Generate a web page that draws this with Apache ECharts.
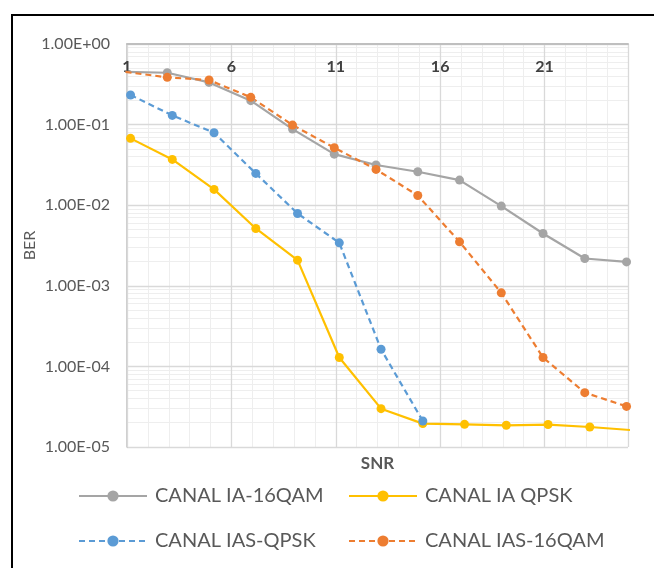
<!DOCTYPE html>
<html>
<head>
<meta charset="utf-8">
<script src="https://cdn.jsdelivr.net/npm/echarts@6/dist/echarts.min.js"></script>
<style>
  html, body { margin: 0; padding: 0; background: #fff; }
  #chart { width: 654px; height: 568px; }
</style>
</head>
<body>
<div id="chart"></div>
<script>
// SNR positions of each measurement set
const snr16qam = [0.93, 2.93, 4.93, 6.93, 8.93, 10.93, 12.93, 14.93, 16.93, 18.93, 20.93, 22.93, 24.93];
const snrQpsk = [1.17, 3.17, 5.17, 7.17, 9.17, 11.17, 13.17, 15.17, 17.17, 19.17, 21.17, 23.17, 25.17];

// Bit error rate per channel / modulation
const berIA16qam = [0.45, 0.44, 0.334, 0.198, 0.088, 0.043, 0.0315, 0.026, 0.0205, 0.00975, 0.00446, 0.00218, 0.00198];
const berIAqpsk = [0.0675, 0.037, 0.0157, 0.00514, 0.00208, 0.000129, 2.99e-5, 1.95e-5, 1.91e-5, 1.86e-5, 1.90e-5, 1.77e-5, 1.62e-5];
const berIASqpsk = [0.233, 0.130, 0.0792, 0.0248, 0.00789, 0.00341, 0.000163, 2.1e-5];
const berIAS16qam = [0.45, 0.386, 0.357, 0.218, 0.0987, 0.0516, 0.0278, 0.0132, 0.00351, 0.000817, 0.000129, 4.72e-5, 3.19e-5];

const seriesNames = ['CANAL IA-16QAM', 'CANAL IA QPSK', 'CANAL IAS-QPSK', 'CANAL IAS-16QAM'];

const FONT = 'Lato, "Open Sans", sans-serif';

function pairs(xs, ys) {
  return ys.map((y, i) => [xs[i], y]);
}

function sci(v) {
  const e = Math.round(Math.log10(v));
  const m = v / Math.pow(10, e);
  return m.toFixed(2) + 'E' + (e < 0 ? '-' : '+') + String(Math.abs(e)).padStart(2, '0');
}

function lineSeries(name, data, color, dashed) {
  return {
    name: name,
    type: 'line',
    xAxisIndex: 0,
    yAxisIndex: 0,
    data: data,
    z: 5,
    clip: true,
    symbol: 'circle',
    symbolSize: 9,
    showAllSymbol: true,
    lineStyle: { color: color, width: 2.2, type: dashed ? [6, 4] : 'solid' },
    itemStyle: { color: color },
    emphasis: { disabled: true }
  };
}

function legendRow(names, left, top) {
  return {
    data: names.map(n => ({ name: n })),
    left: left,
    top: top,
    orient: 'horizontal',
    padding: 0,
    itemGap: 0,
    itemWidth: 68,
    itemHeight: 14,
    selectedMode: false,
    textStyle: { fontFamily: FONT, fontSize: 20, color: '#595959', lineHeight: 22, padding: [0, 0, 0, 3] }
  };
}

const chart = echarts.init(document.getElementById('chart'), null, { renderer: 'canvas' });

chart.setOption({
  animation: false,
  backgroundColor: '#ffffff',
  textStyle: { fontFamily: FONT },
  grid: { left: 127, top: 44, width: 501, height: 403, containLabel: false },
  xAxis: [
    {
      type: 'value',
      position: 'top',
      min: 1,
      max: 25,
      interval: 5,
      z: 2,
      axisLine: { show: true, onZero: false, lineStyle: { color: '#bfbfbf', width: 2 } },
      axisTick: { show: false },
      axisLabel: {
        inside: true, margin: 15, fontFamily: FONT, fontWeight: 'bold',
        fontSize: 16, color: '#404040', showMaxLabel: false
      },
      splitLine: { show: true, lineStyle: { color: '#d9d9d9', width: 1.3 } }
    },
    {
      type: 'value',
      position: 'bottom',
      min: 1,
      max: 25,
      interval: 1,
      z: 0,
      axisLine: { show: false, onZero: false },
      axisTick: { show: false },
      axisLabel: { show: false },
      splitLine: { show: true, lineStyle: { color: '#eeeeee', width: 1 } },
      name: 'SNR',
      nameLocation: 'middle',
      nameGap: 8,
      nameMoveOverlap: false,
      nameTextStyle: { fontFamily: FONT, fontWeight: 'bold', fontSize: 17, color: '#595959' }
    }
  ],
  yAxis: {
    type: 'log',
    logBase: 10,
    min: 1e-5,
    max: 1,
    z: 1,
    axisLine: { show: true, lineStyle: { color: '#bfbfbf', width: 1.5 } },
    axisTick: { show: false },
    axisLabel: { formatter: sci, fontFamily: FONT, fontSize: 16, color: '#595959', margin: 17 },
    splitLine: { show: true, lineStyle: { color: '#d9d9d9', width: 1.3 } },
    minorTick: { show: false, splitNumber: 9 },
    minorSplitLine: { show: true, lineStyle: { color: '#eeeeee', width: 1 } },
    name: 'BER',
    nameLocation: 'middle',
    nameGap: 89,
    nameMoveOverlap: false,
    nameTextStyle: { fontFamily: FONT, fontSize: 16, color: '#595959' }
  },
  legend: [
    legendRow([seriesNames[0]], 78, 485),
    legendRow([seriesNames[1]], 348, 485),
    legendRow([seriesNames[2]], 78, 530),
    legendRow([seriesNames[3]], 348, 530)
  ],
  series: [
    lineSeries(seriesNames[0], pairs(snr16qam, berIA16qam), '#a5a5a5', false),
    lineSeries(seriesNames[1], pairs(snrQpsk, berIAqpsk), '#ffc000', false),
    lineSeries(seriesNames[2], pairs(snrQpsk, berIASqpsk), '#5b9bd5', true),
    lineSeries(seriesNames[3], pairs(snr16qam, berIAS16qam), '#ed7d31', true)
  ],
  graphic: [
    {
      type: 'rect',
      silent: true,
      shape: { x: 12, y: 15, width: 700, height: 600 },
      style: { fill: 'none', stroke: '#000000', lineWidth: 2 }
    }
  ]
});
</script>
</body>
</html>
